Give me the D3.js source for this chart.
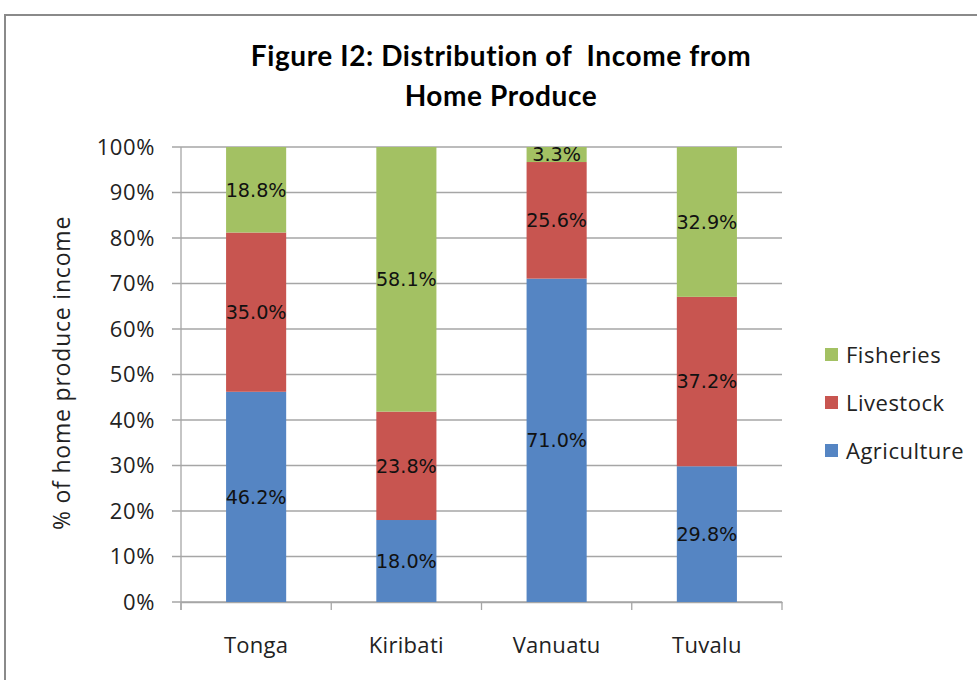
<!DOCTYPE html>
<html><head><meta charset="utf-8">
<script src="https://cdn.jsdelivr.net/npm/d3@7"></script>
<style>body{margin:0;background:#fff}svg{display:block}</style>
</head><body><svg id="c" width="977" height="680"></svg>
<script>
const categories = ["Tonga","Kiribati","Vanuatu","Tuvalu"];
const seriesNames = ["Agriculture","Livestock","Fisheries"];
const agriculture = [46.2, 18.0, 71.0, 29.8];
const livestock   = [35.0, 23.8, 25.6, 37.2];
const fisheries   = [18.8, 58.1, 3.3, 32.9];
const yTicks = [0,10,20,30,40,50,60,70,80,90,100];
const colors = {Agriculture:"#5585C3", Livestock:"#C85550", Fisheries:"#A3C163"};

const rows = categories.map((c,i)=>{
  const tot = agriculture[i]+livestock[i]+fisheries[i];
  return {cat:c, Agriculture:agriculture[i], Livestock:livestock[i], Fisheries:fisheries[i],
    nAgriculture:agriculture[i]/tot*100, nLivestock:livestock[i]/tot*100, nFisheries:fisheries[i]/tot*100};
});

const svg = d3.select("#c");
const L=181, R=782, T=147, B=602;
const x = d3.scaleBand().domain(categories).range([L,R]).paddingInner(0.6).paddingOuter(0.3);
const xb = d3.scaleBand().domain(categories).range([L,R]);
const y = d3.scaleLinear().domain([0,100]).range([B,T]);
const txtFont = "'Open Sans', sans-serif";

// outer border
svg.append("rect").attr("x",5).attr("y",15).attr("width",990).attr("height",700)
  .attr("fill","none").attr("stroke","#8a8a8a").attr("stroke-width",2);

// title
const title = svg.append("text").attr("text-anchor","middle").attr("font-family","Lato, sans-serif")
  .attr("font-weight","bold").attr("font-size",28).attr("letter-spacing",0.6).attr("fill","#000");
title.append("tspan").attr("x",501).attr("y",66).text("Figure I2: Distribution of \u00A0Income from");
title.append("tspan").attr("x",501).attr("y",106).text("Home Produce");

// gridlines
svg.append("g").selectAll("line").data(yTicks).join("line")
  .attr("x1",L-9).attr("x2",R).attr("y1",d=>y(d)).attr("y2",d=>y(d))
  .attr("stroke","#a6a6a6").attr("stroke-width",1.3);

// y axis
const yAxis = d3.axisLeft(y).tickValues(yTicks).tickFormat(d=>d+"%").tickSize(0).tickPadding(26);
const yg = svg.append("g").attr("transform",`translate(${L},0)`).call(yAxis);
yg.select(".domain").remove();
yg.selectAll("text").attr("font-family",txtFont).attr("font-size",22).attr("letter-spacing",0.6).attr("fill","#222");
svg.append("line").attr("x1",L).attr("x2",L).attr("y1",T).attr("y2",B+8).attr("stroke","#a6a6a6").attr("stroke-width",1.3);

// x axis
const xAxis = d3.axisBottom(xb).tickSize(0).tickPadding(35);
const xg = svg.append("g").attr("transform",`translate(0,${B})`).call(xAxis);
xg.select(".domain").attr("stroke","#a6a6a6").attr("stroke-width",1.3);
xg.selectAll("text").attr("font-family",txtFont).attr("font-size",22).attr("letter-spacing",0.3).attr("fill","#222");
svg.append("g").selectAll("line").data(categories.concat(["_end"])).join("line")
  .attr("x1",(d,i)=> i<categories.length ? xb(d) : R).attr("x2",(d,i)=> i<categories.length ? xb(d) : R)
  .attr("y1",B).attr("y2",B+8).attr("stroke","#a6a6a6").attr("stroke-width",1.3);

// stacks
const stack = d3.stack().keys(seriesNames.map(s=>"n"+s));
const stacked = stack(rows);
const gs = svg.append("g").selectAll("g").data(stacked).join("g")
  .attr("fill",(d,i)=>colors[seriesNames[i]]);
gs.selectAll("rect").data(d=>d).join("rect")
  .attr("x",d=>x(d.data.cat)).attr("width",x.bandwidth())
  .attr("y",d=>y(d[1])).attr("height",d=>y(d[0])-y(d[1]));

// labels
const lblFont = "'DejaVu Sans', sans-serif";
const probe = svg.append("text").attr("font-family",lblFont).attr("font-size",20).text("46.2%");
const pw = probe.node().getComputedTextLength();
probe.remove();
const lblSize = pw > 0 ? 20*61/pw : 17;
const lg = svg.append("g");
stacked.forEach((s,i)=>{
  const name = seriesNames[i];
  lg.selectAll(null).data(s).join("text")
    .attr("x",d=>x(d.data.cat)+x.bandwidth()/2)
    .attr("y",d=>y((d[0]+d[1])/2))
    .attr("dy","0.36em").attr("text-anchor","middle")
    .attr("font-family",lblFont)
    .attr("font-size",lblSize).attr("fill","#111")
    .text(d=>d.data[name].toFixed(1)+"%");
});

// y title
svg.append("text").attr("transform","translate(70,373) rotate(-90)").attr("text-anchor","middle")
  .attr("font-family",txtFont).attr("font-size",23).attr("letter-spacing",0.8).attr("fill","#222")
  .text("% of home produce income");

// legend
const legendItems = ["Fisheries","Livestock","Agriculture"];
const leg = svg.append("g").selectAll("g").data(legendItems).join("g")
  .attr("transform",(d,i)=>`translate(825,${355+i*48})`);
leg.append("rect").attr("x",0).attr("y",-7).attr("width",13).attr("height",13).attr("fill",d=>colors[d]);
leg.append("text").attr("x",21).attr("y",0).attr("dy","0.36em")
  .attr("font-family",txtFont).attr("font-size",22).attr("letter-spacing",0.5).attr("fill","#222").text(d=>d);
</script></body></html>
